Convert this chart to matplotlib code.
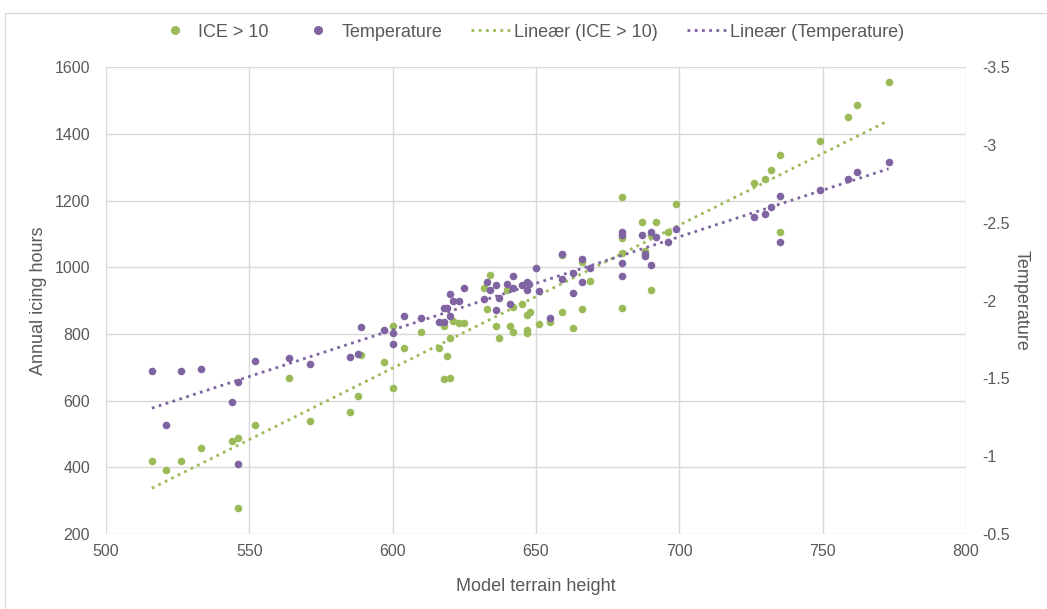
import numpy as np
import matplotlib
matplotlib.use("Agg")
import matplotlib.pyplot as plt
from matplotlib.lines import Line2D
from matplotlib.legend_handler import HandlerBase
from matplotlib.patches import Rectangle

plt.rcParams['font.family'] = ['Liberation Sans', 'DejaVu Sans']

# Icing hours (ICE > 10) against model terrain height
ice_height = [516, 521, 526, 533, 544, 546, 546, 552, 564, 571, 585, 588, 589, 597,
              600, 600, 604, 610, 616, 618, 619, 618, 620, 620, 621, 623, 625, 632,
              634, 633, 636, 637, 640, 641, 642, 642, 645, 647, 647, 647, 648, 651,
              655, 659, 659, 663, 666, 666, 669, 680, 680, 680, 680, 687, 688, 690,
              690, 692, 696, 699, 726, 730, 732, 735, 735, 749, 759, 762, 773]
ice_hours = [420, 393, 420, 457, 480, 489, 278, 527, 667, 539, 565, 614, 736, 716,
             824, 638, 757, 807, 758, 824, 735, 664, 669, 788, 840, 832, 833, 938,
             977, 875, 825, 789, 932, 823, 805, 880, 890, 812, 803, 857, 865, 830,
             835, 865, 1036, 818, 1015, 875, 960, 1212, 1087, 1043, 879, 1135, 1049, 1097,
             931, 1135, 1106, 1189, 1254, 1264, 1293, 1338, 1105, 1380, 1450, 1486, 1555]

# Mean temperature against model terrain height
temp_height = [516, 526, 533, 521, 546, 544, 546, 552, 564, 571, 585, 588, 589, 597,
               600, 600, 604, 610, 616, 618, 618, 619, 620, 620, 621, 623, 625, 632,
               633, 634, 636, 637, 636, 640, 642, 642, 641, 645, 647, 647.4, 647, 650,
               651, 655, 659, 659, 663, 663, 666, 666, 669, 680, 680, 680, 680, 687,
               688, 688, 690, 690, 692, 696, 699, 726, 730, 732, 735, 735, 749, 759,
               762, 773]
temp_values = [-1.55, -1.55, -1.56, -1.20, -1.48, -1.35, -0.95, -1.61, -1.63, -1.59,
               -1.64, -1.66, -1.83, -1.81, -1.79, -1.72, -1.90, -1.89, -1.86, -1.86,
               -1.95, -1.95, -1.90, -2.04, -2.00, -2.00, -2.08, -2.01, -2.12, -2.07,
               -2.10, -2.02, -1.94, -2.11, -2.16, -2.08, -1.98, -2.10, -2.12, -2.11,
               -2.07, -2.21, -2.06, -1.89, -2.30, -2.14, -2.18, -2.05, -2.27, -2.12,
               -2.21, -2.44, -2.42, -2.24, -2.16, -2.42, -2.30, -2.29, -2.44, -2.23,
               -2.41, -2.38, -2.46, -2.54, -2.56, -2.60, -2.67, -2.38, -2.71, -2.78,
               -2.83, -2.89]

x_ticks = [500, 550, 600, 650, 700, 750, 800]
left_ticks = [200, 400, 600, 800, 1000, 1200, 1400, 1600]
right_ticks = [-0.5, -1, -1.5, -2, -2.5, -3, -3.5]
right_tick_labels = ['-0.5', '-1', '-1.5', '-2', '-2.5', '-3', '-3.5']
legend_labels = ['ICE > 10', 'Temperature', 'Lineær (ICE > 10)', 'Lineær (Temperature)']

GREEN = '#9BBB59'
PURPLE = '#8064A2'
GRID = '#D9D9D9'
TEXT = '#595959'
DOTS = (0, (1, 1.6))


class MarkerNearText(HandlerBase):
    """Draws a scatter legend marker at a fixed distance before its label."""

    def create_artists(self, legend, orig_handle, xdescent, ydescent,
                       width, height, fontsize, trans):
        x = width - xdescent - 14
        y = height / 2 - ydescent
        mk = Line2D([x], [y], marker='o', linestyle='none',
                    color=orig_handle.get_color(),
                    markersize=orig_handle.get_markersize(), transform=trans)
        return [mk]


fig = plt.figure(figsize=(10.47, 6.09), dpi=100)
ax = fig.add_axes([106 / 1047, 1 - 534 / 609, (966 - 106) / 1047, (534 - 67.3) / 609])
ax2 = ax.twinx()

# Chart border
fig.patches.append(Rectangle((5 / 1047, -0.01), 1.02, 1 - 13 / 609 + 0.01,
                             transform=fig.transFigure, fill=False,
                             edgecolor='#D9D9D9', linewidth=1))

ax.scatter(ice_height, ice_hours, s=30, color=GREEN, zorder=3, linewidths=0)
ax2.scatter(temp_height, temp_values, s=30, color=PURPLE, zorder=3, linewidths=0)

# Linear trend lines over the data range
xi = np.array(ice_height, dtype=float)
k1, b1 = np.polyfit(xi, np.array(ice_hours, dtype=float), 1)
xr = np.array([xi.min(), xi.max()])
ax.plot(xr, k1 * xr + b1, linestyle=DOTS, color=GREEN, linewidth=2, zorder=2)

xt = np.array(temp_height, dtype=float)
k2, b2 = np.polyfit(xt, np.array(temp_values, dtype=float), 1)
xr2 = np.array([xt.min(), xt.max()])
ax2.plot(xr2, k2 * xr2 + b2, linestyle=DOTS, color=PURPLE, linewidth=2, zorder=2)

ax.set_xlim(500, 800)
ax.set_ylim(200, 1600)
ax2.set_ylim(-0.5, -3.5)
ax.set_xticks(x_ticks)
ax.set_yticks(left_ticks)
ax2.set_yticks(right_ticks)
ax2.set_yticklabels(right_tick_labels)

ax.grid(True, color=GRID, linewidth=1)
ax.set_axisbelow(True)
for a in (ax, ax2):
    for sp in a.spines.values():
        sp.set_visible(False)
    a.tick_params(length=0, labelsize=11.5, colors=TEXT)
ax.tick_params(axis='x', pad=7)
ax.tick_params(axis='y', pad=11.5)
ax2.tick_params(axis='y', pad=12)

ax.set_xlabel('Model terrain height', fontsize=13, color=TEXT, labelpad=14)
ax.set_ylabel('Annual icing hours', fontsize=13, color=TEXT, labelpad=5)
ax2.set_ylabel('Temperature', fontsize=13, color=TEXT, rotation=270, labelpad=14)

handles = [
    Line2D([], [], marker='o', linestyle='none', color=GREEN, markersize=5.5),
    Line2D([], [], marker='o', linestyle='none', color=PURPLE, markersize=5.5),
    Line2D([], [], linestyle=DOTS, color=GREEN, linewidth=2),
    Line2D([], [], linestyle=DOTS, color=PURPLE, linewidth=2),
]
leg = fig.legend(handles, legend_labels, loc='center', bbox_to_anchor=(0.506, 0.947),
                 ncol=4, frameon=False, fontsize=13, handlelength=2.2,
                 handletextpad=0.2, columnspacing=1.6,
                 handler_map={handles[0]: MarkerNearText(), handles[1]: MarkerNearText()})
for t in leg.get_texts():
    t.set_color(TEXT)

fig.savefig('out.png', dpi=100)
